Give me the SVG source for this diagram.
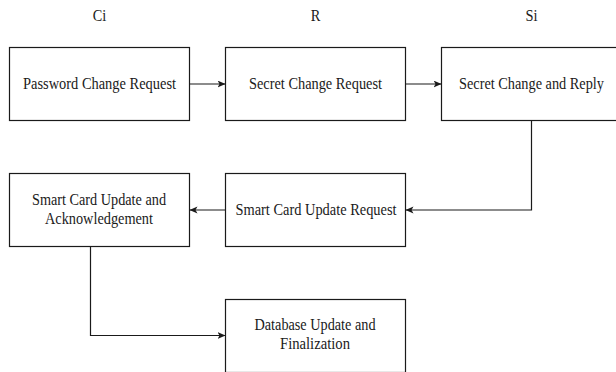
<svg xmlns="http://www.w3.org/2000/svg" width="616" height="372" viewBox="0 0 616 372">
<style>
.box{fill:#fff;stroke:#1a1a1a;stroke-width:1.2}
.t{font-family:"Liberation Serif","Times New Roman",serif;font-size:16px;fill:#1a1a1a;text-anchor:middle}
.c{fill:none;stroke:#1a1a1a;stroke-width:1.2}
</style>
<defs>
<marker id="ah" markerUnits="userSpaceOnUse" markerWidth="10" markerHeight="8" refX="8" refY="3.5" orient="auto">
<path d="M0,0 L8,3.5 L0,7 L2,3.5 z" fill="#1a1a1a"/>
</marker>
</defs>
<rect width="616" height="372" fill="#fff"/>
<g id="lanes">
<text class="t" x="99.5" y="20.5" textLength="13.5" lengthAdjust="spacingAndGlyphs">Ci</text>
<text class="t" x="315.5" y="20.5" textLength="9.6" lengthAdjust="spacingAndGlyphs">R</text>
<text class="t" x="531.5" y="20.5" textLength="12" lengthAdjust="spacingAndGlyphs">Si</text>
</g>
<g id="connectors">
<path class="c" d="M189.5,84 L225.5,84" marker-end="url(#ah)"/>
<path class="c" d="M405.5,84 L441.5,84" marker-end="url(#ah)"/>
<path class="c" d="M531.5,120.5 L531.5,210 L405.5,210" marker-end="url(#ah)"/>
<path class="c" d="M225.5,210 L189.5,210" marker-end="url(#ah)"/>
<path class="c" d="M90.5,246.5 L90.5,335.5 L225.5,335.5" marker-end="url(#ah)"/>
</g>
<g id="n1">
<rect class="box" x="9.5" y="47.5" width="180" height="73"/>
<text class="t" x="99.5" y="89" textLength="153" lengthAdjust="spacingAndGlyphs">Password Change Request</text>
</g>
<g id="n2">
<rect class="box" x="225.5" y="47.5" width="180" height="73"/>
<text class="t" x="315.5" y="89" textLength="133" lengthAdjust="spacingAndGlyphs">Secret Change Request</text>
</g>
<g id="n3">
<rect class="box" x="441.5" y="47.5" width="180" height="73"/>
<text class="t" x="531.5" y="89" textLength="145" lengthAdjust="spacingAndGlyphs">Secret Change and Reply</text>
</g>
<g id="n4">
<rect class="box" x="9.5" y="173.5" width="180" height="73"/>
<text class="t" x="99" y="205.2" textLength="134" lengthAdjust="spacingAndGlyphs">Smart Card Update and</text>
<text class="t" x="99" y="224.2" textLength="108" lengthAdjust="spacingAndGlyphs">Acknowledgement</text>
</g>
<g id="n5">
<rect class="box" x="225.5" y="173.5" width="180" height="73"/>
<text class="t" x="316" y="215" textLength="161" lengthAdjust="spacingAndGlyphs">Smart Card Update Request</text>
</g>
<g id="n6">
<rect class="box" x="225.5" y="299.5" width="180" height="73"/>
<text class="t" x="315" y="329.5" textLength="121" lengthAdjust="spacingAndGlyphs">Database Update and</text>
<text class="t" x="315" y="348.5" textLength="70" lengthAdjust="spacingAndGlyphs">Finalization</text>
</g>
</svg>
